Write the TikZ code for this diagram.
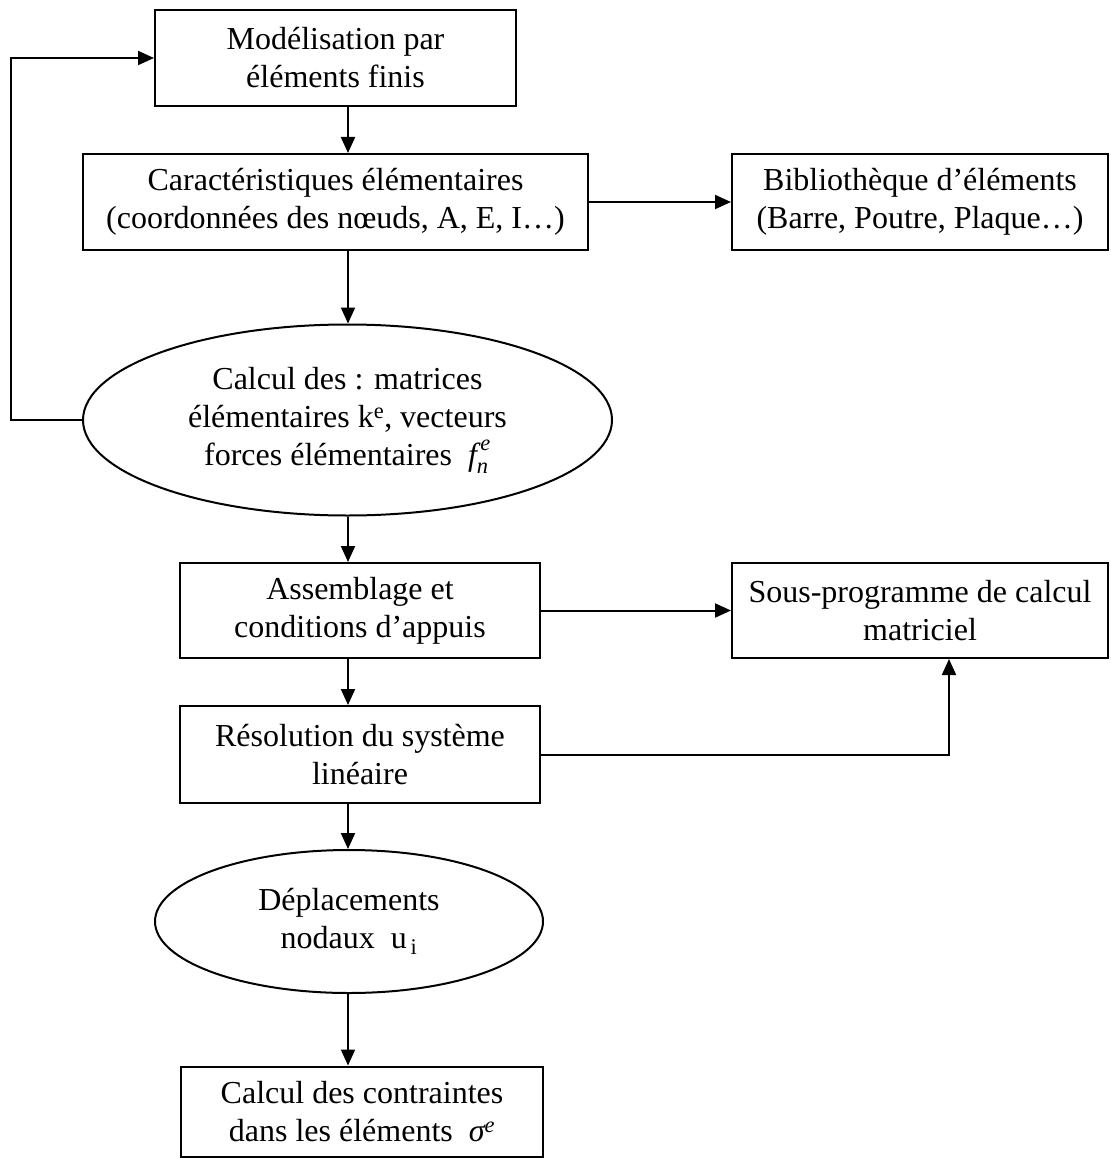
\documentclass[tikz,border=0pt]{standalone}
\usepackage{amsmath}
\usepackage{fontspec}
\setmainfont{Liberation Serif}
\usetikzlibrary{shapes.geometric, arrows.meta}

\begin{document}
\begin{tikzpicture}[x=1pt, y=-1pt, font=\fontsize{32}{38}\selectfont]
        \tikzstyle{process} = [rectangle, draw=black, line width=2pt, align=center, inner sep=0pt]
        \tikzstyle{result} = [ellipse, draw=black, line width=2pt, align=center, inner sep=0pt]
        \tikzstyle{arrow} = [line width=2pt, -{Triangle[length=16pt, width=14pt]}]

        \useasboundingbox (0,0) rectangle (1110,1158);
        \coordinate (spine) at (348,0);

        \node (model) [process, minimum width=361, minimum height=96] at (335.5,58) {Modélisation par\\éléments finis};
        \node (caract) [process, minimum width=505, minimum height=96] at (335.5,202) {Caractéristiques élémentaires\\(coordonnées des nœuds, A, E, I…)};
        \node (biblio) [process, minimum width=376, minimum height=96] at (920,202) {Bibliothèque d’éléments\\(Barre, Poutre, Plaque…)};
        \node (calcul) [result, minimum width=529, minimum height=191] at (347.5,420) {Calcul des : matrices\\élémentaires k\textsuperscript{e}, vecteurs\\forces élémentaires \ $\textit{f}^{\,\textit{e}}_{\textit{n}}$};
        \node (assemb) [process, minimum width=360, minimum height=95] at (360,610.5) {Assemblage et\\conditions d’appuis};
        \node (sousprog) [process, minimum width=376, minimum height=95] at (920,610.5) {Sous-programme de calcul\\matriciel};
        \node (resol) [process, minimum width=360, minimum height=97] at (360,754.5) {Résolution du système\\linéaire};
        \node (depl) [result, minimum width=388, minimum height=143] at (349,921.5) {Déplacements\\nodaux \ u\textsubscript{\,i}};
        \node (contr) [process, minimum width=362, minimum height=90] at (362,1111.5) {Calcul des contraintes\\dans les éléments \ $\textit{σ}^{\textit{e}}$};

        \draw [arrow] (model.south -| spine) -- (caract.north -| spine);
        \draw [arrow] (caract.east) -- (biblio.west);
        \draw [arrow] (caract.south -| spine) -- (calcul.north -| spine);
        \draw [arrow] (calcul.west) -- ++(-71,0) |- (model.west);
        \draw [arrow] (calcul.south -| spine) -- (assemb.north -| spine);
        \draw [arrow] (assemb.east) -- (sousprog.west);
        \draw [arrow] (assemb.south -| spine) -- (resol.north -| spine);
        \draw [arrow] (resol.east) -| ([xshift=29]sousprog.south);
        \draw [arrow] (resol.south -| spine) -- (depl.north -| spine);
        \draw [arrow] (depl.south -| spine) -- (contr.north -| spine);
    \end{tikzpicture}
\end{document}
